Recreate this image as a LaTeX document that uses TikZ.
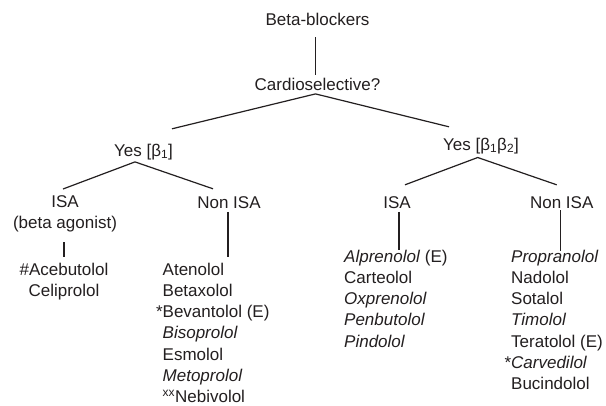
\documentclass[tikz,border=0pt]{standalone}
\usepackage{fontspec}
\setmainfont{Liberation Sans}
\usepackage{tikz}
\usetikzlibrary{calc}
\definecolor{ink}{HTML}{231F20}
\tikzset{
  head/.style={font=\fontsize{17}{21.3}\selectfont,text=ink,inner sep=0pt,
    text height=12.3pt,text depth=3.7pt,anchor=base},
  drugs/.style={font=\fontsize{17}{21.3}\selectfont,text=ink,inner sep=0pt,
    align=left,anchor=north west},
  branch/.style={draw=ink,line width=1.2pt}
}

\begin{document}
\begin{tikzpicture}[x=1pt,y=-1pt]
\path[fill=white] (0,0) rectangle (606,405);
\node[head] (top) at (317.5,25) {Beta-blockers};
\node[head] (cardio) at (317.5,90) {Cardioselective?};
\node[head] (yes1) at (143.5,156) {Yes [β\textsubscript{1}]};
\node[head] (yes2) at (481,150) {Yes [β\textsubscript{1}β\textsubscript{2}]};
\node[head,text height=,text depth=,anchor=north,align=center] (isa1) at (65,195.5) {ISA\\(beta agonist)};
\node[head] (nonisa1) at (229,208) {Non ISA};
\node[head] (isa2) at (397,208) {ISA};
\node[head] (nonisa2) at (561.7,208) {Non ISA};
\node[drugs,align=center,anchor=north] (list1) at (64,262.5) {\#Acebutolol\\Celiprolol};
\node[drugs] (list2) at (162.5,262.5) {Atenolol\\Betaxolol\\\llap{*}Bevantolol (E)\\\textit{Bisoprolol}\\Esmolol\\\textit{Metoprolol}\\\textsuperscript{xx}Nebivolol};
\node[drugs] (list3) at (344,249.5) {\textit{Alprenolol} (E)\\Carteolol\\\textit{Oxprenolol}\\\textit{Penbutolol}\\\textit{Pindolol}};
\node[drugs] (list4) at (511,249.5) {\textit{Propranolol}\\Nadolol\\Sotalol\\\textit{Timolol}\\Teratolol (E)\\\llap{*}\textit{Carvedilol}\\Bucindolol};

\draw[branch] ([shift={(-2,8.3)}]top.south) -- ([shift={(-2,-2.7)}]cardio.north);
\draw[branch] ([shift={(28.5,-14.7)}]yes1.north) -- ([shift={(-2,0)}]cardio.south)
   -- ([shift={(-32,-10.7)}]yes2.north);
\draw[branch] ([shift={(-2,-6.5)}]isa1.north) -- ([shift={(-8.5,2)}]yes1.south)
   -- ([shift={(-16,-6.7)}]nonisa1.north);
\draw[branch] ([shift={(8,-10.7)}]isa2.north) -- ([shift={(-3.3,3.6)}]yes2.south)
   -- ([shift={(-5,-10.7)}]nonisa2.north);
\draw[branch] ([shift={(-1,9.4)}]isa1.south) -- ([shift={(0,-5.5)}]list1.north);
\draw[branch] ([shift={(-1,0)}]nonisa1.south) -- ($(nonisa1.south |- list2.north)+(-1,-5.5)$);
\draw[branch] ([shift={(2,0)}]isa2.south) -- ($(isa2.south |- list3.north)+(2,0.5)$);
\draw[branch] ([shift={(-1,-1.7)}]nonisa2.south) -- ($(nonisa2.south |- list4.north)+(-1,1)$);
\end{tikzpicture}
\end{document}
